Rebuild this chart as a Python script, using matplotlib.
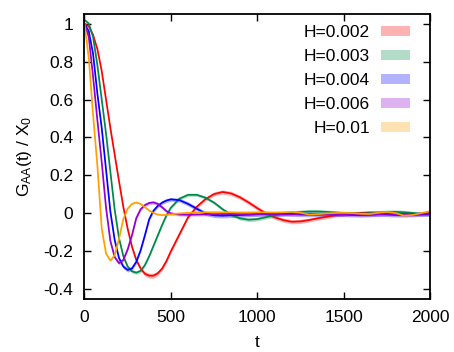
import matplotlib
matplotlib.use("Agg")
import matplotlib.pyplot as plt
import numpy as np
from matplotlib.patches import Patch

plt.rcParams['font.family'] = ['Liberation Sans', 'DejaVu Sans']
plt.rcParams['mathtext.default'] = 'regular'
plt.rcParams['axes.unicode_minus'] = False

# time grid
t = [0, 25, 50, 75, 100, 125, 150, 175, 200, 225, 250, 275, 300, 325, 350, 375, 400, 425, 450, 475, 500,
     550, 600, 650, 700, 750, 800, 850, 900, 950, 1000, 1050, 1100, 1150, 1200, 1250, 1300, 1350, 1400, 1450,
     1500, 1550, 1600, 1650, 1700, 1750, 1800, 1850, 1900, 1950, 2000]

labels = ["H=0.002", "H=0.003", "H=0.004", "H=0.006", "H=0.01"]

g_h002 = [1.00, 0.985, 0.94, 0.865, 0.75, 0.60, 0.45, 0.31, 0.17, 0.035, -0.08, -0.175, -0.245, -0.29, -0.318,
          -0.328, -0.328, -0.315, -0.29, -0.25, -0.2,
          -0.11, -0.02, 0.035, 0.075, 0.102, 0.113, 0.105, 0.085, 0.058, 0.028, 0.0, -0.02, -0.035, -0.044, -0.042,
          -0.035, -0.026, -0.018, -0.01, -0.004, 0.0, 0.003, 0.005, 0.004, 0.002, 0.0, -0.002, -0.003, -0.002, 0.0]
g_h003 = [1.02, 1.0, 0.93, 0.78, 0.6, 0.42, 0.22, 0.02, -0.13, -0.225, -0.28, -0.305, -0.312, -0.303, -0.272,
          -0.225, -0.17, -0.115, -0.06, -0.01, 0.03,
          0.078, 0.098, 0.098, 0.083, 0.057, 0.022, -0.008, -0.026, -0.033, -0.03, -0.02, -0.01, -0.002, 0.003,
          0.007, 0.01, 0.01, 0.008, 0.005, 0.002, 0.0, -0.001, 0.001, 0.004, 0.007, 0.008, 0.006, 0.002, -0.002,
          -0.003]
g_h004 = [1.0, 0.96, 0.84, 0.63, 0.45, 0.23, 0.01, -0.14, -0.235, -0.28, -0.298, -0.29, -0.255, -0.195, -0.115,
          -0.03, 0.015, 0.04, 0.057, 0.068, 0.074,
          0.07, 0.05, 0.025, 0.0, -0.01, -0.012, -0.01, -0.008, -0.006, -0.004, -0.003, -0.002, -0.002, -0.003,
          -0.005, -0.006, -0.006, -0.005, -0.004, -0.005, -0.007, -0.008, -0.006, -0.004, -0.005, -0.007, -0.008,
          -0.006, -0.004, -0.003]
g_h006 = [1.0, 0.93, 0.72, 0.49, 0.27, 0.03, -0.145, -0.23, -0.262, -0.245, -0.19, -0.115, -0.025, 0.022, 0.044,
          0.055, 0.058, 0.05, 0.032, 0.012, 0.0,
          -0.006, -0.007, -0.006, -0.005, -0.004, -0.003, -0.003, -0.004, -0.005, -0.004, -0.003, -0.003, -0.004,
          -0.004, -0.003, -0.002, -0.003, -0.005, -0.006, -0.005, -0.004, -0.006, -0.007, -0.005, -0.003, -0.004,
          -0.006, -0.005, -0.003, -0.002]
g_h01 = [1.0, 0.82, 0.52, 0.25, -0.08, -0.21, -0.249, -0.22, -0.135, -0.03, 0.025, 0.05, 0.058, 0.05, 0.033,
         0.015, 0.002, -0.006, -0.009, -0.008, -0.005,
         0.0, 0.003, 0.005, 0.006, 0.006, 0.006, 0.006, 0.005, 0.005, 0.006, 0.006, 0.005, 0.006, 0.008, 0.004,
         -0.006, -0.004, 0.0, 0.002, 0.003, 0.002, -0.002, -0.003, 0.003, 0.008, 0.002, -0.012, -0.008, 0.002, 0.012]

# statistical errors (half width of the shaded bands)
e_h002 = [0.002, 0.002, 0.002, 0.002, 0.003, 0.003, 0.004, 0.004, 0.005, 0.006, 0.007, 0.008, 0.009, 0.011, 0.012,
          0.013, 0.013, 0.013, 0.012, 0.011, 0.010,
          0.009, 0.008, 0.009, 0.010, 0.011, 0.011, 0.011, 0.011, 0.011, 0.011, 0.011, 0.011, 0.011, 0.011, 0.011,
          0.010, 0.010, 0.010, 0.010, 0.010, 0.009, 0.009, 0.009, 0.009, 0.009, 0.009, 0.009, 0.009, 0.009, 0.009]
e_h003 = [0.002, 0.002, 0.002, 0.003, 0.003, 0.004, 0.005, 0.006, 0.007, 0.008, 0.009, 0.009, 0.009, 0.009, 0.008,
          0.008, 0.008, 0.008, 0.008, 0.008, 0.008,
          0.008, 0.008, 0.008, 0.008, 0.008, 0.008, 0.009, 0.009, 0.010, 0.010, 0.010, 0.010, 0.010, 0.010, 0.011,
          0.011, 0.011, 0.010, 0.010, 0.010, 0.010, 0.010, 0.010, 0.011, 0.011, 0.011, 0.011, 0.010, 0.010, 0.010]
e_h004 = [0.002, 0.002, 0.003, 0.003, 0.004, 0.005, 0.006, 0.008, 0.009, 0.010, 0.011, 0.011, 0.011, 0.010, 0.010,
          0.010, 0.010, 0.010, 0.010, 0.010, 0.010,
          0.010, 0.011, 0.011, 0.011, 0.012, 0.012, 0.012, 0.012, 0.012, 0.012, 0.012, 0.012, 0.012, 0.012, 0.012,
          0.012, 0.012, 0.012, 0.012, 0.012, 0.012, 0.012, 0.012, 0.012, 0.012, 0.012, 0.012, 0.012, 0.012, 0.012]
e_h006 = [0.002, 0.002, 0.003, 0.004, 0.005, 0.006, 0.008, 0.009, 0.010, 0.010, 0.009, 0.009, 0.009, 0.009, 0.009,
          0.009, 0.009, 0.009, 0.009, 0.008, 0.008,
          0.008, 0.008, 0.008, 0.008, 0.008, 0.008, 0.008, 0.009, 0.009, 0.009, 0.009, 0.009, 0.009, 0.009, 0.009,
          0.009, 0.009, 0.009, 0.009, 0.010, 0.010, 0.010, 0.010, 0.010, 0.010, 0.010, 0.010, 0.010, 0.010, 0.010]
e_h01 = [0.002, 0.002, 0.002, 0.003, 0.003, 0.003, 0.003, 0.003, 0.003, 0.003, 0.003, 0.003, 0.003, 0.003, 0.003,
         0.003, 0.003, 0.003, 0.003, 0.003, 0.003,
         0.003, 0.003, 0.003, 0.003, 0.003, 0.003, 0.003, 0.003, 0.003, 0.003, 0.003, 0.003, 0.003, 0.003, 0.003,
         0.003, 0.003, 0.003, 0.003, 0.003, 0.003, 0.003, 0.003, 0.003, 0.003, 0.003, 0.003, 0.003, 0.003, 0.003]

values = [g_h002, g_h003, g_h004, g_h006, g_h01]
errors = [e_h002, e_h003, e_h004, e_h006, e_h01]
colors = ["#ff0000", "#00884a", "#0000ff", "#9400d3", "#ffa000"]

fig = plt.figure(figsize=(4.54, 3.52), dpi=100)
ax = fig.add_axes([0.186, 0.151, 0.761, 0.809])

tt = np.array(t)
handles = []
for y, e, c, lab in zip(values, errors, colors, labels):
    y = np.array(y)
    e = np.array(e)
    ax.fill_between(tt, y - e, y + e, color=c, alpha=0.3, lw=0)
    ax.plot(tt, y, color=c, lw=1.25)
    handles.append(Patch(facecolor=c, alpha=0.3, edgecolor='none', label=lab))

ax.set_xlim(0, 2000)
ax.set_ylim(-0.45, 1.05)
ax.set_xticks([0, 500, 1000, 1500, 2000])
yt = [-0.4, -0.2, 0, 0.2, 0.4, 0.6, 0.8, 1]
ax.set_yticks(yt)
ax.set_yticklabels(["-0.4", "-0.2", "0", "0.2", "0.4", "0.6", "0.8", "1"])
ax.tick_params(direction='in', top=True, right=True, length=5, width=1.0, labelsize=12.5, pad=8)
for s in ax.spines.values():
    s.set_linewidth(1.3)

ax.set_xlabel("t", fontsize=12.5, labelpad=7)
ax.set_ylabel("G$_{AA}$(t) / X$_0$", fontsize=12.5, labelpad=7)

ax.legend(handles=handles, loc='upper right', markerfirst=False, frameon=False, fontsize=12.5,
          handlelength=1.65, handleheight=0.55, handletextpad=0.65, labelspacing=0.52,
          borderpad=0, borderaxespad=0, bbox_to_anchor=(0.942, 0.962))

fig.savefig("out.png", dpi=100)
